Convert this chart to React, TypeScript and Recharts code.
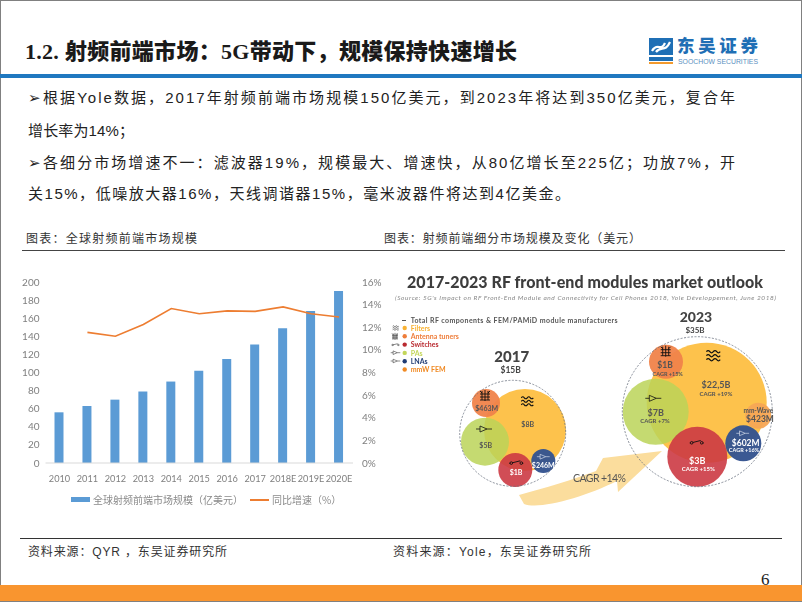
import { Bar, ComposedChart, Legend, Line, Scatter, ScatterChart, XAxis, YAxis, ZAxis } from "recharts";

const CJK = '"Noto Sans CJK SC"';
const BODY_FONT = `"Liberation Sans", ${CJK}`;
const INFO_FONT = `Lato, ${CJK}`;

// Left chart
const years = ["2010", "2011", "2012", "2013", "2014", "2015", "2016", "2017", "2018E", "2019E", "2020E"];
const marketSize = [56, 63, 70, 79, 90, 102, 115, 131, 149, 168, 190];
const growthRate = [null, 11.55, 11.2, 12.25, 13.65, 13.2, 13.45, 13.4, 13.8, 13.2, 12.9];
const sizeTicks = [0, 20, 40, 60, 80, 100, 120, 140, 160, 180, 200];
const rateTicks = [0, 2, 4, 6, 8, 10, 12, 14, 16];

const marketRows = years.map((year, i) => ({ year, size: marketSize[i], rate: growthRate[i] }));

// Right infographic bubbles, x / y in panel units, z is radius squared
const outerCircles = [
  { x: 140.7, y: 173.3, z: 2809 },
  { x: 325.3, y: 151.7, z: 5625 },
];
const bubbles2017 = [
  { name: "filters", x: 153, y: 170, z: 1681 },
  { name: "tuners", x: 114, y: 143, z: 196 },
  { name: "pas", x: 113, y: 181.7, z: 576 },
  { name: "switches", x: 143.3, y: 210, z: 289 },
  { name: "lnas", x: 171.3, y: 201, z: 144 },
];
const bubbles2023 = [
  { name: "filters", x: 334.7, y: 142.7, z: 3600 },
  { name: "tuners", x: 294, y: 101.7, z: 289 },
  { name: "pas", x: 283.7, y: 151.7, z: 1089 },
  { name: "switches", x: 325.3, y: 196.7, z: 900 },
  { name: "lnas", x: 371.3, y: 183.3, z: 324 },
  { name: "mmw", x: 386.3, y: 155.7, z: 169 },
];

const BUBBLE_COLORS: Record<string, { fill: string; opacity: number }> = {
  filters: { fill: "#FDC24C", opacity: 1 },
  tuners: { fill: "#F0834A", opacity: 0.95 },
  pas: { fill: "#BBD458", opacity: 0.85 },
  switches: { fill: "#CC3A44", opacity: 0.9 },
  lnas: { fill: "#355490", opacity: 0.97 },
  mmw: { fill: "#F7A755", opacity: 0.95 },
};

const legendItems = [
  { label: "Filters", color: "#F9B233" },
  { label: "Antenna tuners", color: "#EE7D3A" },
  { label: "Switches", color: "#B92A30" },
  { label: "PAs", color: "#C3D65A" },
  { label: "LNAs", color: "#1F3B73" },
  { label: "mmW FEM", color: "#F08A24" },
];

const bodyLines = [
  { text: "➢根据Yole数据，2017年射频前端市场规模150亿美元，到2023年将达到350亿美元，复合年", y: 103, w: 707 },
  { text: "增长率为14%；", y: 136, w: 106 },
  { text: "➢各细分市场增速不一：滤波器19%，规模最大、增速快，从80亿增长至225亿；功放7%，开", y: 168, w: 707 },
  { text: "关15%，低噪放大器16%，天线调谐器15%，毫米波器件将达到4亿美金。", y: 199, w: 542 },
];

function Bubble(props: any) {
  const style = BUBBLE_COLORS[props.payload.name];
  return <circle cx={props.cx} cy={props.cy} r={props.width / 2} fill={style.fill} fillOpacity={style.opacity} />;
}

function OuterCircle(props: any) {
  return <circle cx={props.cx} cy={props.cy} r={props.width / 2} fill="none" stroke="#6b7280" strokeWidth={0.8} strokeDasharray="2 1.5" />;
}

function MarketLegend() {
  return (
    <div style={{ position: "relative", height: 35, fontFamily: CJK, fontSize: 10, color: "#8a8a8a" }}>
      <div style={{ position: "absolute", left: 71, top: 12, width: 19, height: 5, background: "#5B9BD5" }} />
      <div style={{ position: "absolute", left: 93, top: 7, whiteSpace: "nowrap" }}>全球射频前端市场规模（亿美元）</div>
      <div style={{ position: "absolute", left: 250, top: 14, width: 19, height: 2, background: "#ED7D31" }} />
      <div style={{ position: "absolute", left: 272, top: 7, whiteSpace: "nowrap" }}>同比增速（%）</div>
    </div>
  );
}

function Waves({ x, y, s = 1 }: { x: number; y: number; s?: number }) {
  return (
    <g transform={`translate(${x},${y}) scale(${s})`} fill="none" stroke="#111" strokeWidth={1.1}>
      <path d="M-6 -3.5 q1.5 -2 3 0 t3 0 t3 0 t3 0" />
      <path d="M-6 0 q1.5 -2 3 0 t3 0 t3 0 t3 0" />
      <path d="M-6 3.5 q1.5 -2 3 0 t3 0 t3 0 t3 0" />
    </g>
  );
}

function PaIcon({ x, y, s = 1, stroke = "#111" }: { x: number; y: number; s?: number; stroke?: string }) {
  return (
    <g transform={`translate(${x},${y}) scale(${s})`} fill="none" stroke={stroke} strokeWidth={0.8}>
      <path d="M-4 -3 L3 0 L-4 3 Z M-8 0 H-4 M3 0 H8" />
    </g>
  );
}

function SwitchIcon({ x, y, s = 1 }: { x: number; y: number; s?: number }) {
  return (
    <g transform={`translate(${x},${y}) scale(${s})`} fill="none" stroke="#111" strokeWidth={0.9}>
      <circle cx={-5} cy={0.8} r={1.3} />
      <circle cx={5} cy={0.8} r={1.3} />
      <path d="M-7 1 H-6 M-4 0.5 L4 -1.5 M6 1 H7" />
    </g>
  );
}

function TunerIcon({ x, y, s = 1 }: { x: number; y: number; s?: number }) {
  return (
    <g transform={`translate(${x},${y}) scale(${s})`} fill="none" stroke="#111" strokeWidth={0.9}>
      <path d="M-5 -2 H5 M-5 1 H5 M-3 -5 V4 M0 -6 V5 M3 -5 V4 M-5 -5 L-3 -3 M5 -5 L3 -3 M-5 4 H5" />
    </g>
  );
}

export default function App() {
  return (
    <div style={{ position: "absolute", left: 0, top: 0, width: 802, height: 602, background: "#fff", overflow: "hidden" }}>
      {/* slide frame */}
      <div style={{ position: "absolute", left: 0, top: 0, width: 800, height: 600, border: "1px solid #808080" }} />
      <div style={{ position: "absolute", left: 0, top: 74, width: 802, height: 3.5, background: "#1F78C0" }} />
      <div style={{ position: "absolute", left: 22, top: 250, width: 763, height: 1, background: "#444" }} />
      <div style={{ position: "absolute", left: 20, top: 538, width: 762, height: 1, background: "#333" }} />
      <div style={{ position: "absolute", left: 0, top: 585, width: 802, height: 16, background: "#F9952F" }} />

      {/* slide text */}
      <svg width={802} height={602} style={{ position: "absolute", left: 0, top: 0 }}>
        <text x={25} y={59} fontSize={22} fontWeight={900} fontFamily={`"Liberation Serif", ${CJK}`} fill="#1a1a1a" textLength={492} lengthAdjust="spacing">
          1.2. 射频前端市场：5G带动下，规模保持快速增长
        </text>
        {bodyLines.map((l) => (
          <text key={l.y} x={28} y={l.y} fontSize={15} fontFamily={BODY_FONT} fill="#222" textLength={l.w} lengthAdjust="spacing">
            {l.text}
          </text>
        ))}
        <text x={26} y={243} fontSize={12} fontFamily={BODY_FONT} fill="#333" textLength={171} lengthAdjust="spacing">图表：全球射频前端市场规模</text>
        <text x={384} y={243} fontSize={12} fontFamily={BODY_FONT} fill="#333" textLength={257} lengthAdjust="spacing">图表：射频前端细分市场规模及变化（美元）</text>
        <text x={28} y={556} fontSize={12} fontFamily={BODY_FONT} fill="#333" textLength={199} lengthAdjust="spacing">资料来源：QYR ，东吴证券研究所</text>
        <text x={393} y={556} fontSize={12} fontFamily={BODY_FONT} fill="#333" textLength={198} lengthAdjust="spacing">资料来源：Yole，东吴证券研究所</text>
        <text x={761} y={585} fontSize={17} fontFamily="Liberation Serif" fill="#222">6</text>

        {/* logo */}
        <rect x={649} y={38} width={24} height={17} fill="#1F6FB5" />
        <path d="M652 51 C657 42 661 52 665 43 M656 52 C661 45 665 53 670 42" fill="none" stroke="#fff" strokeWidth={2.2} />
        <rect x={649} y={57} width={24} height={4} fill="#1F6FB5" />
        <rect x={649} y={62} width={24} height={2} fill="#F39A2D" />
        <text x={677} y={52} fontSize={17.5} fontWeight={900} fontFamily={CJK} fill="#1F6FB5" textLength={81} lengthAdjust="spacing">东吴证券</text>
        <text x={678} y={63.5} fontSize={7.5} fontFamily="Liberation Sans" fill="#5a8fc0" textLength={80} lengthAdjust="spacingAndGlyphs">SOOCHOW SECURITIES</text>

        {/* CAGR swoosh, sits under the bubble chart */}
        <path d="M519 495 C545 488 572 480 596 471 L603 458 L662 451 L618 492 L617 481 C585 497 540 510 524 504 Z" fill="#FBDD9D" />
      </svg>

      {/* left chart */}
      <div style={{ position: "absolute", left: 0, top: 260, filter: "blur(0.35px)" }}>
        <ComposedChart width={400} height={260} data={marketRows} margin={{ top: 22, right: 0, bottom: 0, left: 0 }}>
          <XAxis
            dataKey="year"
            height={22}
            interval={0}
            tickLine={false}
            axisLine={{ stroke: "#D9D9D9" }}
            tick={{ fontSize: 9.2, fill: "#7f7f7f", fontFamily: "Lato" }}
            tickMargin={6}
          />
          <YAxis
            yAxisId="left"
            width={45.5}
            domain={[0, 200]}
            ticks={sizeTicks}
            interval={0}
            axisLine={false}
            tickLine={false}
            tick={{ fontSize: 10, fill: "#7f7f7f", fontFamily: "Lato" }}
            tickMargin={0}
          />
          <YAxis
            yAxisId="right"
            orientation="right"
            width={47}
            domain={[0, 16]}
            ticks={rateTicks}
            interval={0}
            axisLine={false}
            tickLine={false}
            tick={{ fontSize: 10, fill: "#7f7f7f", fontFamily: "Lato" }}
            tickFormatter={(v: number) => `${v}%`}
            tickMargin={3}
          />
          <Legend verticalAlign="bottom" height={35} content={() => <MarketLegend />} wrapperStyle={{ left: 0, width: 400 }} />
          <Bar yAxisId="left" dataKey="size" name="全球射频前端市场规模（亿美元）" fill="#5B9BD5" barSize={9} isAnimationActive={false} />
          <Line yAxisId="right" dataKey="rate" name="同比增速（%）" stroke="#ED7D31" strokeWidth={1.6} dot={false} connectNulls={false} isAnimationActive={false} />
        </ComposedChart>
      </div>

      {/* right infographic */}
      <div style={{ position: "absolute", left: 372, top: 260, filter: "blur(0.35px)" }}>
        <ScatterChart width={430} height={260} margin={{ top: 0, right: 0, bottom: 0, left: 0 }}>
          <XAxis type="number" dataKey="x" domain={[0, 430]} hide />
          <YAxis type="number" dataKey="y" domain={[0, 260]} reversed hide />
          <ZAxis type="number" dataKey="z" domain={[0, 5625]} range={[0, 5625 * Math.PI]} />
          <Scatter data={bubbles2017} shape={Bubble} isAnimationActive={false} />
          <Scatter data={bubbles2023} shape={Bubble} isAnimationActive={false} />
          <Scatter data={outerCircles} shape={OuterCircle} isAnimationActive={false} />
        </ScatterChart>
      </div>

      {/* right infographic labels */}
      <svg width={802} height={602} style={{ position: "absolute", left: 0, top: 0, pointerEvents: "none", filter: "blur(0.3px)" }} fontFamily={INFO_FONT} fontWeight={700}>
        <text x={407} y={288} fontSize={16} fontWeight={900} fill="#3d3d3d" textLength={356} lengthAdjust="spacing">2017-2023 RF front-end modules market outlook</text>
        <text x={395} y={300} fontSize={6.5} fontWeight={400} fontStyle="italic" fill="#888" textLength={381} lengthAdjust="spacing">(Source: 5G's Impact on RF Front-End Module and Connectivity for Cell Phones 2018, Yole Développement, June 2018)</text>

        <rect x={402} y={320} width={4} height={1} fill="#555" />
        <text x={410.7} y={322.5} fontSize={7} fill="#555" textLength={207} lengthAdjust="spacing">Total RF components & FEM/PAMiD module manufacturers</text>
        {legendItems.map((item, i) => (
          <g key={item.label}>
            <circle cx={404.7} cy={328 + i * 8.3} r={2.2} fill={item.color} />
            <text x={410.7} y={330.6 + i * 8.3} fontSize={7} fill={item.color}>{item.label}</text>
          </g>
        ))}
        <Waves x={395.7} y={328} s={0.5} />
        <TunerIcon x={395} y={336.5} s={0.6} />
        <SwitchIcon x={395.5} y={344.5} s={0.55} />
        <PaIcon x={395.5} y={352.7} s={0.6} />
        <PaIcon x={395.5} y={361} s={0.6} />

        <text x={511.7} y={362} fontSize={15} textAnchor="middle" fill="#444" fontWeight={900}>2017</text>
        <text x={510.7} y={372.5} fontSize={8.5} textAnchor="middle" fill="#444">$15B</text>
        <Waves x={527.3} y={401.3} />
        <text x={527.7} y={426.5} fontSize={7} textAnchor="middle" fill="#555">$8B</text>
        <TunerIcon x={485} y={396} />
        <text x={486.7} y={411} fontSize={7} textAnchor="middle" fill="#555">$463M</text>
        <PaIcon x={484} y={429} />
        <text x={485.7} y={448} fontSize={7} textAnchor="middle" fill="#555">$5B</text>
        <SwitchIcon x={516.3} y={462.3} />
        <text x={516} y={475.3} fontSize={7} textAnchor="middle" fill="#fff">$1B</text>
        <PaIcon x={543.3} y={456.7} s={0.8} stroke="#dfe6f2" />
        <text x={543.3} y={467.5} fontSize={7} textAnchor="middle" fill="#fff">$246M</text>

        <text x={696} y={322} fontSize={14} textAnchor="middle" fill="#444" fontWeight={900}>2023</text>
        <text x={695} y={332.5} fontSize={8} textAnchor="middle" fill="#444">$35B</text>
        <Waves x={713.3} y={355.7} s={1.15} />
        <text x={716} y={388} fontSize={9} textAnchor="middle" fill="#555">$22,5B</text>
        <text x={716} y={395.5} fontSize={6} textAnchor="middle" fill="#555">CAGR +19%</text>
        <TunerIcon x={665.7} y={351.7} />
        <text x={665} y={368.3} fontSize={8.5} textAnchor="middle" fill="#555">$1B</text>
        <text x={667.7} y={375.5} fontSize={5.5} textAnchor="middle" fill="#555">CAGR +15%</text>
        <PaIcon x={653.3} y={398.3} />
        <text x={655.7} y={416.3} fontSize={9} textAnchor="middle" fill="#555">$7B</text>
        <text x={655} y={423} fontSize={6} textAnchor="middle" fill="#555">CAGR +7%</text>
        <SwitchIcon x={696.7} y={442} />
        <text x={697.3} y={464} fontSize={9} textAnchor="middle" fill="#fff">$3B</text>
        <text x={698.3} y={471} fontSize={6} textAnchor="middle" fill="#fff">CAGR +15%</text>
        <PaIcon x={742.7} y={433.3} s={0.8} stroke="#dfe6f2" />
        <text x={745.7} y={445.7} fontSize={8.5} textAnchor="middle" fill="#fff">$602M</text>
        <text x={744} y={452} fontSize={5.5} textAnchor="middle" fill="#fff">CAGR +16%</text>
        <text x={758.3} y={413} fontSize={6.5} textAnchor="middle" fill="#555">mm-Wave</text>
        <text x={760} y={422.3} fontSize={8.5} textAnchor="middle" fill="#555">$423M</text>

        <text x={573} y={482} fontSize={10.5} fontWeight={400} fill="#555" textLength={53} lengthAdjust="spacing">CAGR +14%</text>
      </svg>
    </div>
  );
}
